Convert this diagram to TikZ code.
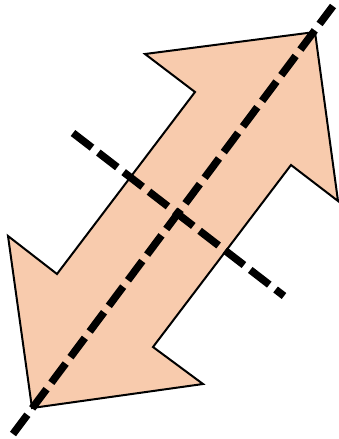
\documentclass[tikz,border=0pt]{standalone}
\definecolor{peach}{RGB}{248,203,173}
\begin{document}
\begin{tikzpicture}[x=1pt,y=-1pt,
  arrowshape/.style={fill=peach,draw=black,line width=2pt,line join=miter},
  axisline/.style={draw=black,line width=7.5pt,dash pattern=on 24pt off 8pt}]
\useasboundingbox (0,0) rectangle (339,439);
\path[arrowshape] (315,32) -- (338,201) -- (291,165) -- (153,347) -- (203,384)
  -- (32,408) -- (8,236) -- (57,274) -- (195,92) -- (145,54) -- cycle;
\coordinate (a1) at (13,434);
\coordinate (a2) at (333,6);
\coordinate (b1) at (73,133);
\coordinate (b2) at (284,296);
\path[axisline] (a1) -- (a2);
\path[axisline] (b1) -- (b2);
\end{tikzpicture}
\end{document}
